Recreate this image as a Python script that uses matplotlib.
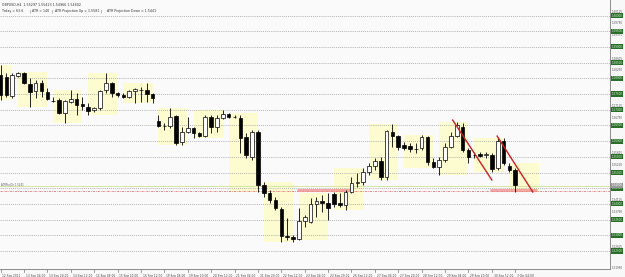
import matplotlib.pyplot as plt
from matplotlib.patches import Rectangle
import numpy as np

# GBPUSD H4 bars, 12 Sep 2011 12:00 -> 3 Oct 2011 04:00
opens = [1.5811, 1.5804, 1.5744, 1.5807, 1.5817, 1.5782, 1.5760, 1.5785, 1.5756, 1.5728,
         1.5731, 1.5690, 1.5725, 1.5734, 1.5718, 1.5709, 1.5699, 1.5705, 1.5763, 1.5785,
         1.5753, 1.5747, 1.5741, 1.5760, 1.5763, 1.5763, 1.5750, 1.5664, 1.5648, 1.5648,
         1.5680, 1.5597, 1.5629, 1.5642, 1.5626, 1.5616, 1.5677, 1.5645, 1.5674, 1.5686,
         1.5677, 1.5674, 1.5613, 1.5549, 1.5629, 1.5460, 1.5435, 1.5412, 1.5384, 1.5298,
         1.5295, 1.5288, 1.5346, 1.5342, 1.5400, 1.5409, 1.5403, 1.5432, 1.5403, 1.5397,
         1.5438, 1.5467, 1.5470, 1.5502, 1.5521, 1.5537, 1.5486, 1.5629, 1.5616, 1.5588,
         1.5584, 1.5575, 1.5578, 1.5613, 1.5533, 1.5518, 1.5540, 1.5581, 1.5616, 1.5645,
         1.5572, 1.5556, 1.5559, 1.5556, 1.5556, 1.5514, 1.5600, 1.5521, 1.5508]
highs = [1.5842, 1.5817, 1.5817, 1.5820, 1.5819, 1.5801, 1.5795, 1.5795, 1.5769, 1.5741,
         1.5737, 1.5731, 1.5763, 1.5753, 1.5741, 1.5721, 1.5709, 1.5763, 1.5817, 1.5788,
         1.5756, 1.5753, 1.5763, 1.5769, 1.5772, 1.5785, 1.5753, 1.5683, 1.5658, 1.5705,
         1.5683, 1.5645, 1.5677, 1.5645, 1.5629, 1.5683, 1.5683, 1.5683, 1.5699, 1.5690,
         1.5683, 1.5683, 1.5626, 1.5635, 1.5635, 1.5470, 1.5444, 1.5422, 1.5390, 1.5355,
         1.5301, 1.5387, 1.5365, 1.5419, 1.5422, 1.5428, 1.5435, 1.5438, 1.5435, 1.5444,
         1.5486, 1.5498, 1.5514, 1.5530, 1.5546, 1.5549, 1.5635, 1.5654, 1.5619, 1.5597,
         1.5594, 1.5594, 1.5619, 1.5615, 1.5546, 1.5549, 1.5594, 1.5629, 1.5661, 1.5658,
         1.5578, 1.5565, 1.5565, 1.5565, 1.5562, 1.5610, 1.5610, 1.5530, 1.5514]
lows = [1.5731, 1.5741, 1.5737, 1.5804, 1.5782, 1.5709, 1.5737, 1.5741, 1.5731, 1.5725,
        1.5686, 1.5658, 1.5721, 1.5683, 1.5699, 1.5683, 1.5693, 1.5699, 1.5753, 1.5741,
        1.5741, 1.5737, 1.5737, 1.5721, 1.5725, 1.5725, 1.5721, 1.5645, 1.5635, 1.5642,
        1.5588, 1.5588, 1.5626, 1.5610, 1.5613, 1.5613, 1.5626, 1.5629, 1.5670, 1.5674,
        1.5674, 1.5562, 1.5546, 1.5540, 1.5438, 1.5422, 1.5403, 1.5381, 1.5279, 1.5285,
        1.5279, 1.5285, 1.5327, 1.5339, 1.5358, 1.5374, 1.5349, 1.5390, 1.5390, 1.5381,
        1.5435, 1.5454, 1.5460, 1.5492, 1.5508, 1.5476, 1.5476, 1.5581, 1.5572, 1.5572,
        1.5565, 1.5562, 1.5572, 1.5524, 1.5514, 1.5492, 1.5533, 1.5578, 1.5613, 1.5565,
        1.5530, 1.5546, 1.5549, 1.5546, 1.5502, 1.5508, 1.5524, 1.5502, 1.5438]
closes = [1.5747, 1.5747, 1.5811, 1.5817, 1.5785, 1.5756, 1.5785, 1.5760, 1.5734, 1.5727,
          1.5690, 1.5728, 1.5734, 1.5715, 1.5712, 1.5696, 1.5705, 1.5760, 1.5785, 1.5753,
          1.5747, 1.5741, 1.5760, 1.5766, 1.5762, 1.5750, 1.5737, 1.5648, 1.5647, 1.5677,
          1.5594, 1.5629, 1.5642, 1.5626, 1.5616, 1.5677, 1.5645, 1.5674, 1.5686, 1.5677,
          1.5676, 1.5610, 1.5556, 1.5629, 1.5460, 1.5435, 1.5412, 1.5387, 1.5298, 1.5295,
          1.5288, 1.5346, 1.5358, 1.5400, 1.5409, 1.5403, 1.5387, 1.5400, 1.5397, 1.5438,
          1.5467, 1.5470, 1.5502, 1.5521, 1.5537, 1.5486, 1.5632, 1.5616, 1.5581, 1.5578,
          1.5575, 1.5574, 1.5613, 1.5533, 1.5518, 1.5540, 1.5581, 1.5616, 1.5651, 1.5572,
          1.5549, 1.5555, 1.5553, 1.5559, 1.5511, 1.5600, 1.5530, 1.5508, 1.5460]

# first bar index of each trading day (6 H4 bars per day)
day_starts = [-3, 3, 9, 15, 21, 27, 33, 39, 45, 51, 57, 63, 69, 75, 81, 87]

time_labels = ['12 Sep 2011', '13 Sep 04:00', '13 Sep 20:00', '14 Sep 12:00', '15 Sep 04:00',
               '15 Sep 20:00', '16 Sep 12:00', '19 Sep 04:00', '19 Sep 20:00', '20 Sep 12:00',
               '21 Sep 04:00', '21 Sep 20:00', '22 Sep 12:00', '23 Sep 04:00', '23 Sep 20:00',
               '26 Sep 12:00', '27 Sep 04:00', '27 Sep 20:00', '28 Sep 12:00', '29 Sep 04:00',
               '29 Sep 20:00', '30 Sep 12:00', '3 Oct 04:00']

grid_levels = [1.6000, 1.5950, 1.5900, 1.5850, 1.5800, 1.5750, 1.5700, 1.5650,
               1.5600, 1.5550, 1.5500, 1.5450, 1.5400, 1.5350, 1.5300, 1.5250]
scale_levels = [1.60125, 1.59750, 1.59375, 1.58625, 1.58250, 1.57125, 1.56750,
                1.55625, 1.55250, 1.54125, 1.53750, 1.52625, 1.51950]

atr_down = 1.5441
support_zones = [(50.7, 60.0), (83.7, 91.7)]
trend_lines = [[(77.3, 1.5667), (84.0, 1.5476)],
               [(84.9, 1.5616), (91.0, 1.5438)]]

header1 = 'GBPUSD,H4  1.55297 1.55423 1.54966 1.54602'
header2 = ['Today = 63.6', '|', 'ATR = 140', '|', 'ATR Projection Up = 1.5581', '|',
           'ATR Projection Down = 1.5441']

o, h, l, c = (np.array(a) for a in (opens, highs, lows, closes))
x = np.arange(len(o))

fig = plt.figure(figsize=(6.25, 2.77), dpi=100)
fig.patch.set_facecolor('#F8F8F8')
ax = fig.add_axes([0, 8 / 277, 610 / 625, 269 / 277])
ax.set_facecolor('#FAFAFA')
ax.set_xlim(-0.1, 104.2)
ax.set_ylim(1.51927, 1.60494)

# daily range boxes
for s in day_starts:
    idx = [i for i in range(s, s + 6) if 0 <= i < len(o)]
    lo, hi = l[idx].min(), h[idx].max()
    ax.add_patch(Rectangle((s, lo), 5, hi - lo, fc='#FDFBD0', ec='none', zorder=1))

for lev in grid_levels:
    ax.axhline(lev, color='#9C9C9C', lw=0.5, ls=(0, (1.5, 1.5)), zorder=2)

# bid line and ATR projection
ax.axhline(c[-1] - 0.0003, color='#D6E4A4', lw=0.7, zorder=2)
ax.axhline(atr_down, color='#E05A5A', lw=0.5, ls=(0, (3, 1.5, 1, 1.5)), zorder=2)
for a, b in support_zones:
    ax.plot([a, b], [atr_down + 0.0002, atr_down + 0.0002], color='#F08C8C', lw=2.2,
            alpha=0.75, solid_capstyle='butt', zorder=2)

# candles
ax.vlines(x, l, h, color='black', lw=0.6, zorder=3)
body = np.maximum(np.abs(c - o), 0.00008)
ax.bar(x, body, bottom=np.minimum(o, c), width=0.62,
       color=np.where(c >= o, 'white', 'black'), edgecolor='black', lw=0.5, zorder=4)

for ln in trend_lines:
    (x0, y0), (x1, y1) = ln
    ax.plot([x0, x1], [y0, y1], color='#CC2020', lw=1.0, zorder=5)

# axes frame
for side in ['top', 'left']:
    ax.spines[side].set_visible(False)
for side in ['right', 'bottom']:
    ax.spines[side].set_color('#7A7A7A')
    ax.spines[side].set_linewidth(0.6)
ax.set_xticks([])
ax.set_yticks([])

# price scale
yt = ax.get_yaxis_transform()
for lev in scale_levels:
    ax.text(1.003, lev, f'{lev:.5f}', transform=yt, fontsize=2.0, color='#555555',
            ha='left', va='center', clip_on=False)
for lev in grid_levels:
    ax.text(1.003, lev, f'{lev:.5f}', transform=yt, fontsize=2.0, color='#D8F4D8',
            ha='left', va='center', clip_on=False,
            bbox=dict(boxstyle='square,pad=0.2', fc='#2A6E2A', ec='none'))
ax.text(1.003, c[-1], f'{c[-1]:.5f}', transform=yt, fontsize=2.0, color='white',
        ha='left', va='center', clip_on=False,
        bbox=dict(boxstyle='square,pad=0.2', fc='#9A9A9A', ec='none'))

# time scale
xt = ax.get_xaxis_transform()
for k, lab in enumerate(time_labels):
    ax.plot([4 * k, 4 * k], [0, -0.012], transform=xt, color='#7A7A7A', lw=0.5,
            clip_on=False)
    ax.text(4 * k + 0.3, -0.018, lab, transform=xt, fontsize=2.1, color='#444444',
            ha='left', va='top', clip_on=False)

# header text
ax.text(0.003, 0.988, header1, transform=ax.transAxes, fontsize=2.3, color='#333333',
        ha='left', va='top')
hx = [0.003, 0.048, 0.053, 0.084, 0.090, 0.165, 0.176]
for xx, t in zip(hx, header2):
    ax.text(xx, 0.965, t, transform=ax.transAxes, fontsize=2.3, color='#333333',
            ha='left', va='top')

ax.text(0.002, atr_down + 0.0012, 'ATRProjDn 1.5441', fontsize=1.8, color='#555555',
        ha='left', va='bottom')

fig.savefig('out.png', dpi=100, facecolor=fig.get_facecolor())
